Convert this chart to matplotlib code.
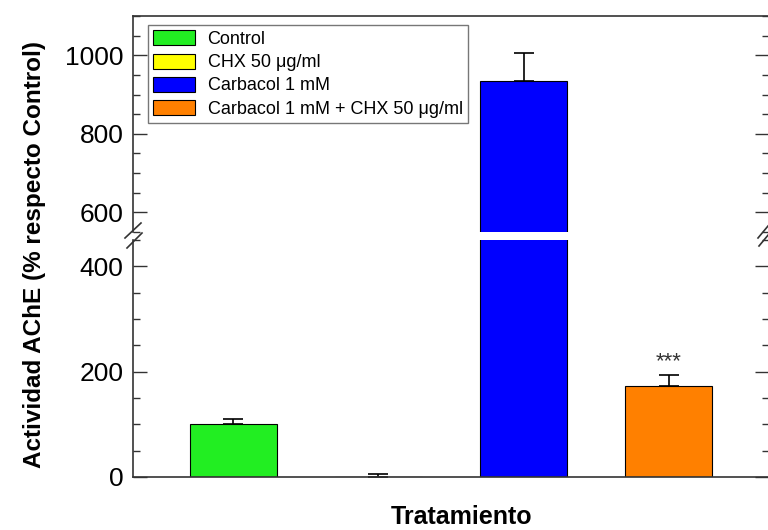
import matplotlib
matplotlib.use("Agg")
import matplotlib.pyplot as plt
from matplotlib.lines import Line2D
from matplotlib.patches import Patch
from matplotlib.ticker import MultipleLocator

plt.rcParams['font.family'] = ['Liberation Sans', 'DejaVu Sans']
plt.rcParams['ytick.direction'] = 'in'
plt.rcParams['xtick.direction'] = 'in'

categories = ["Control", "CHX 50 μg/ml", "Carbacol 1 mM", "Carbacol 1 mM + CHX 50 μg/ml"]
values = [100, 0, 935, 173]
errors = [10, 5, 70, 21]
colors = ["#22ee22", "#ffff00", "#0000ff", "#ff8000"]
signif = ["", "", "", "***"]

W, H = 768, 530
fig = plt.figure(figsize=(W / 100, H / 100), dpi=100)

left = 133 / W
width = (769 - 133) / W
ax_bot = fig.add_axes([left, (H - 477) / H, width, (477 - 240) / H])
ax_top = fig.add_axes([left, (H - 232) / H, width, (232 - 16) / H])

x = list(range(len(categories)))
for ax in (ax_bot, ax_top):
    ax.bar(x, values, width=0.6, color=colors, edgecolor="black", linewidth=0.8, zorder=2)
    ax.errorbar(x, values, yerr=[[0] * len(values), errors], fmt="none", ecolor="black",
                elinewidth=1.2, capsize=7, capthick=1.2, zorder=1)
    ax.set_xlim(-0.69, 3.69)
    ax.yaxis.set_major_locator(MultipleLocator(200))
    ax.yaxis.set_minor_locator(MultipleLocator(50))
    ax.tick_params(axis="x", which="both", bottom=False, top=False, labelbottom=False)
    ax.tick_params(axis="y", which="major", direction="in", length=10, width=1, left=True,
                   right=True, labelsize=19, color="#333333", pad=7)
    ax.tick_params(axis="y", which="minor", direction="in", length=5, width=1, left=True,
                   right=True, color="#333333")
    for s in ax.spines.values():
        s.set_linewidth(1.2)
        s.set_color("#333333")

ax_bot.set_ylim(0, 450)
ax_top.set_ylim(550, 1100)
ax_bot.spines["top"].set_visible(False)
ax_top.spines["bottom"].set_visible(False)

for i, s in enumerate(signif):
    if s:
        ax_bot.text(x[i], values[i] + errors[i] + 5, s, ha="center", va="bottom",
                    fontsize=16, color="#333333")

# break marks
def brk(x0, y0, x1, y1):
    fig.add_artist(Line2D([x0 / W, x1 / W], [1 - y0 / H, 1 - y1 / H], color="#333333", lw=1.2))

brk(125, 238, 141, 223)
brk(127, 248, 142, 233)
brk(758, 238, 768, 226)
brk(759, 246, 769, 234)

handles = [Patch(facecolor=c, edgecolor="black", linewidth=0.8) for c in colors]
ax_top.legend(handles, categories, loc="upper left", bbox_to_anchor=(15 / 636, 1 - 9 / 216),
              fontsize=13, frameon=True, fancybox=False, edgecolor="#555555",
              handlelength=2.3, handleheight=0.9, borderpad=0.3, labelspacing=0.3,
              handletextpad=0.7, borderaxespad=0)

fig.text(35 / W, 1 - 255 / H, "Actividad AChE (% respecto Control)", rotation=90,
         ha="center", va="center", fontsize=17.5, fontweight="bold")
fig.text(462 / W, 1 - 517 / H, "Tratamiento", ha="center", va="center",
         fontsize=18, fontweight="bold")

fig.savefig("out.png", dpi=100)
